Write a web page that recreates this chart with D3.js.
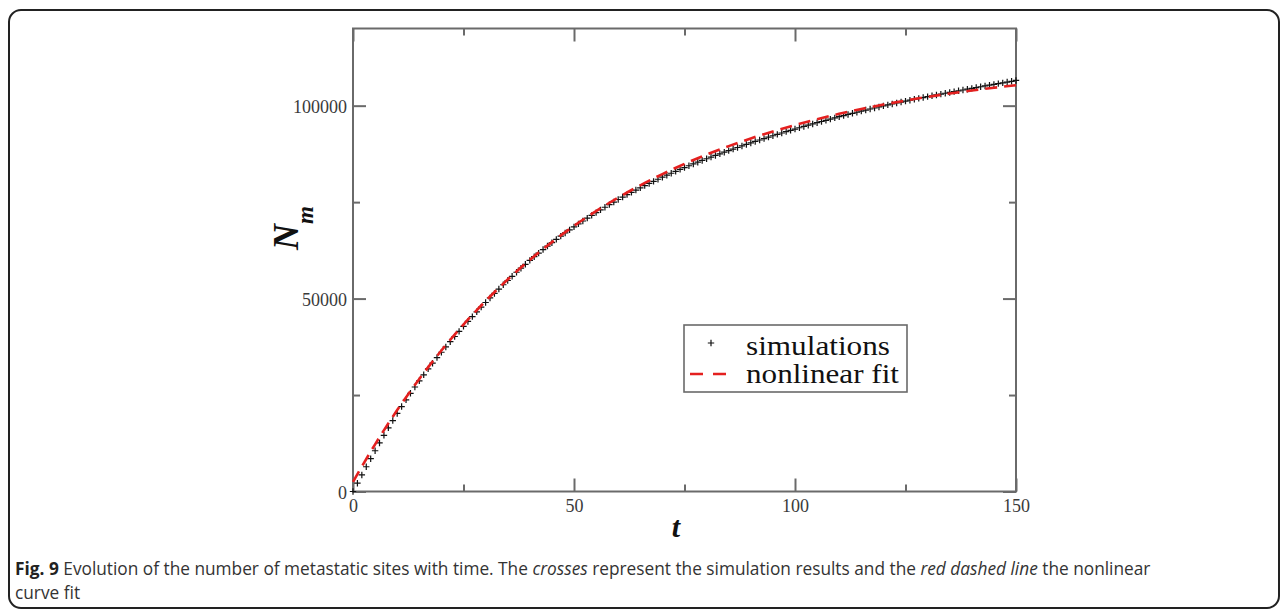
<!DOCTYPE html>
<html>
<head>
<meta charset="utf-8">
<script src="https://cdn.jsdelivr.net/npm/d3@7"></script>
<style>
  html, body { margin: 0; padding: 0; background: #fff; }
  svg { display: block; }
</style>
</head>
<body>
<svg id="chart" width="1287" height="611"></svg>
<script>
// ---------------- data ----------------
// simulation time points (t = 0..150, step 1)
const simT = d3.range(0, 151);
// simulated number of metastatic sites N_m
const simN = [
  0, 2150, 4290, 6410, 8500, 10560, 12580, 14560, 16500, 18390, 20230,
  22020, 23760, 25450, 27090, 28690, 30250, 31770, 33250, 34690, 36090,
  37470, 38830, 40170, 41490, 42790, 44070, 45330, 46570, 47790, 48990,
  50170, 51330, 52470, 53590, 54690, 55770, 56830, 57870, 58890, 59890,
  60850, 61790, 62710, 63610, 64490, 65350, 66190, 67010, 67810, 68590,
  69360, 70110, 70850, 71570, 72280, 72980, 73670, 74350, 75020, 75680,
  76320, 76940, 77540, 78130, 78710, 79280, 79840, 80390, 80930, 81460,
  81980, 82490, 82990, 83480, 83960, 84430, 84890, 85350, 85800, 86240,
  86670, 87100, 87520, 87940, 88350, 88760, 89160, 89560, 89950, 90340,
  90720, 91100, 91470, 91840, 92200, 92560, 92910, 93260, 93600, 93940,
  94280, 94610, 94940, 95260, 95580, 95900, 96210, 96520, 96830, 97140,
  97440, 97730, 98020, 98300, 98580, 98860, 99130, 99400, 99670, 99940,
  100200, 100450, 100700, 100940, 101180, 101420, 101650, 101880, 102110, 102340,
  102560, 102780, 103000, 103220, 103430, 103640, 103850, 104060, 104270, 104480,
  104690, 104900, 105110, 105310, 105510, 105710, 105910, 106120, 106320, 106530
];
// nonlinear fit curve
const fitT = [0, 5, 10, 15, 20, 25, 30, 35, 40, 45, 50, 55, 60, 65, 70, 75,
              80, 85, 90, 95, 100, 105, 110, 115, 120, 125, 130, 135, 140, 145, 150];
const fitN = [2500, 12230, 21100, 29180, 36540, 43260, 49370, 54940, 60010, 64630,
              68850, 72680, 76170, 79360, 82260, 84910, 87320, 89510, 91510, 93330,
              94980, 96500, 97890, 99130, 100280, 101320, 102275, 103140, 103930, 104645, 105300];
// ticks
const xMajorTicks = [0, 50, 100, 150];
const xMinorTicks = [25, 75, 125];
const yMajorTicks = [0, 50000, 100000];
const yMinorTicks = [25000, 75000];
const legendLabels = ["simulations", "nonlinear fit"];

// ---------------- drawing ----------------
const svg = d3.select("#chart");

// outer rounded frame of the figure
svg.append("rect")
  .attr("x", 9).attr("y", 10).attr("width", 1270).attr("height", 598)
  .attr("rx", 12).attr("ry", 12)
  .attr("fill", "none").attr("stroke", "#222").attr("stroke-width", 2);

const L = 353, R = 1016, T = 28.5, B = 491.5;
const x = d3.scaleLinear().domain([0, 150]).range([L, R]);
const y = d3.scaleLinear().domain([0, 120000]).range([B, T]);

const axisColor = "#6a6a6a";
const tickFont = "'Liberation Serif', 'Times New Roman', serif";

function styleAxis(g, showLabels) {
  g.select(".domain").remove();
  g.selectAll(".tick line").attr("stroke", axisColor).attr("stroke-width", 2);
  g.selectAll(".tick text")
    .attr("fill", "#3a3a3a")
    .style("font-family", tickFont)
    .style("font-size", "18px");
  if (!showLabels) g.selectAll(".tick text").remove();
}

// bottom
svg.append("g").attr("transform", `translate(0,${B})`)
  .call(d3.axisBottom(x).tickValues(xMajorTicks).tickSizeInner(-13).tickSizeOuter(0).tickPadding(8).tickFormat(d3.format("d")))
  .call(g => styleAxis(g, true));
svg.append("g").attr("transform", `translate(0,${B})`)
  .call(d3.axisBottom(x).tickValues(xMinorTicks).tickSizeInner(-7).tickSizeOuter(0))
  .call(g => styleAxis(g, false));
// top
svg.append("g").attr("transform", `translate(0,${T})`)
  .call(d3.axisTop(x).tickValues(xMajorTicks).tickSizeInner(-13).tickSizeOuter(0))
  .call(g => styleAxis(g, false));
svg.append("g").attr("transform", `translate(0,${T})`)
  .call(d3.axisTop(x).tickValues(xMinorTicks).tickSizeInner(-7).tickSizeOuter(0))
  .call(g => styleAxis(g, false));
// left
svg.append("g").attr("transform", `translate(${L},0)`)
  .call(d3.axisLeft(y).tickValues(yMajorTicks).tickSizeInner(-13).tickSizeOuter(0).tickPadding(6).tickFormat(d3.format("d")))
  .call(g => styleAxis(g, true))
  .call(g => g.selectAll(".tick text").attr("dy", "0.4em"));
svg.append("g").attr("transform", `translate(${L},0)`)
  .call(d3.axisLeft(y).tickValues(yMinorTicks).tickSizeInner(-7).tickSizeOuter(0))
  .call(g => styleAxis(g, false));
// right
svg.append("g").attr("transform", `translate(${R},0)`)
  .call(d3.axisRight(y).tickValues(yMajorTicks).tickSizeInner(-13).tickSizeOuter(0))
  .call(g => styleAxis(g, false));
svg.append("g").attr("transform", `translate(${R},0)`)
  .call(d3.axisRight(y).tickValues(yMinorTicks).tickSizeInner(-7).tickSizeOuter(0))
  .call(g => styleAxis(g, false));

// frame
svg.append("rect")
  .attr("x", L).attr("y", T).attr("width", R - L).attr("height", B - T)
  .attr("fill", "none").attr("stroke", axisColor).attr("stroke-width", 2);

// simulation crosses
const crossPath = "M-3.2,0H3.2M0,-3.2V3.2";
svg.append("g").selectAll("path")
  .data(simT.map((t, i) => [t, simN[i]]))
  .join("path")
  .attr("transform", d => `translate(${x(d[0])},${y(d[1])})`)
  .attr("d", crossPath)
  .attr("stroke", "#111").attr("stroke-width", 1.2).attr("fill", "none");

// fit line
const line = d3.line().x(d => x(d[0])).y(d => y(d[1])).curve(d3.curveMonotoneX);
svg.append("path")
  .datum(fitT.map((t, i) => [t, fitN[i]]))
  .attr("d", line)
  .attr("fill", "none").attr("stroke", "#e4201f").attr("stroke-width", 2.6)
  .attr("stroke-dasharray", "12,7");

// legend
const lg = svg.append("g");
lg.append("rect").attr("x", 684).attr("y", 325).attr("width", 223).attr("height", 67)
  .attr("fill", "#fff").attr("stroke", axisColor).attr("stroke-width", 1.6);
lg.append("path").attr("transform", "translate(711,343)").attr("d", crossPath)
  .attr("stroke", "#111").attr("stroke-width", 1.2);
lg.append("line").attr("x1", 690).attr("x2", 727).attr("y1", 374).attr("y2", 374)
  .attr("stroke", "#e4201f").attr("stroke-width", 2.6).attr("stroke-dasharray", "13,10");
lg.append("text").attr("x", 746).attr("y", 355).text(legendLabels[0])
  .attr("textLength", 144).attr("lengthAdjust", "spacingAndGlyphs")
  .style("font-family", tickFont).style("font-size", "28px").attr("fill", "#111");
lg.append("text").attr("x", 746).attr("y", 383).text(legendLabels[1])
  .attr("textLength", 153).attr("lengthAdjust", "spacingAndGlyphs")
  .style("font-family", tickFont).style("font-size", "28px").attr("fill", "#111");

// axis titles
const yt = svg.append("text")
  .attr("transform", "translate(298,250) rotate(-90)")
  .style("font-family", tickFont).style("font-weight", "bold").style("font-style", "italic")
  .attr("fill", "#111");
yt.append("tspan").text("N").style("font-size", "36px");
yt.append("tspan").text("m").style("font-size", "23px").attr("dy", 15);

svg.append("text").attr("x", 676).attr("y", 537).attr("text-anchor", "middle")
  .style("font-family", tickFont).style("font-weight", "bold").style("font-style", "italic")
  .style("font-size", "30px").attr("fill", "#111").text("t");

// caption (horizontally condensed to match the original narrow face)
const capFont = "'Open Sans', 'Noto Sans', sans-serif";
const c1 = svg.append("text")
  .style("font-family", capFont).style("font-size", "18px").attr("fill", "#333");
c1.append("tspan").text("Fig. 9").style("font-weight", "bold").attr("fill", "#222");
c1.append("tspan").text(" Evolution of the number of metastatic sites with time. The ");
c1.append("tspan").text("crosses").style("font-style", "italic");
c1.append("tspan").text(" represent the simulation results and the ");
c1.append("tspan").text("red dashed line").style("font-style", "italic");
c1.append("tspan").text(" the nonlinear");
const c2 = svg.append("text")
  .style("font-family", capFont).style("font-size", "18px").attr("fill", "#333")
  .text("curve fit");
const ratio = 1137 / c1.node().getComputedTextLength();
c1.attr("transform", `translate(15,575) scale(${ratio},1)`);
c2.attr("transform", `translate(15,599) scale(${ratio},1)`);
</script>
</body>
</html>
